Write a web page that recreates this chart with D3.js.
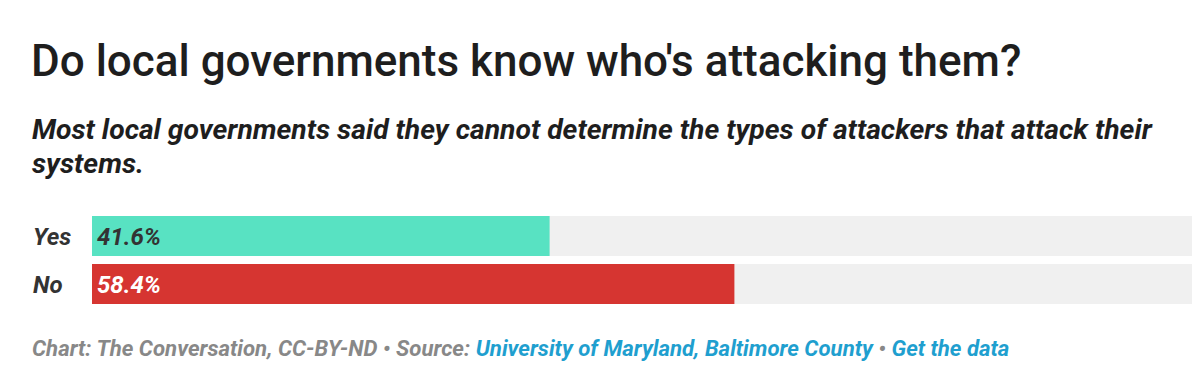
<!DOCTYPE html>
<html><head><meta charset="utf-8">
<script src="https://cdn.jsdelivr.net/npm/d3@7"></script>
<style>
html,body{margin:0;padding:0;background:#fff;}
svg{display:block;font-family:Roboto,"Noto Sans",sans-serif;}
</style></head>
<body>
<svg id="chart" width="1202" height="392"></svg>
<script>
const categories = ["Yes", "No"];
const values = [41.6, 58.4];
const valueLabels = ["41.6%", "58.4%"];
const barColors = ["#58e2c2", "#d63531"];
const labelColors = ["#333333", "#ffffff"];

const svg = d3.select("#chart");

svg.append("text").attr("x", 31).attr("y", 76)
  .attr("font-size", 44).attr("font-weight", 500).attr("fill", "#1e1e1e")
  .text("Do local governments know who's attacking them?");

const sub = svg.append("text").attr("font-size", 28.3).attr("font-weight", 700)
  .attr("font-style", "italic").attr("fill", "#1e1e1e");
sub.append("tspan").attr("x", 32).attr("y", 139)
  .text("Most local governments said they cannot determine the types of attackers that attack their");
sub.append("tspan").attr("x", 32).attr("y", 173).text("systems.");

const x = d3.scaleLinear().domain([0, 100]).range([92, 1192]);
const y = d3.scaleBand().domain(categories).range([216, 304]).paddingInner(0.1667).paddingOuter(0);

const rows = svg.append("g").selectAll("g.row").data(categories).join("g").attr("class", "row");

rows.append("rect").attr("x", x(0)).attr("y", d => y(d))
  .attr("width", x(100) - x(0)).attr("height", y.bandwidth()).attr("fill", "#f0f0f0");
rows.append("rect").attr("x", x(0)).attr("y", d => y(d))
  .attr("width", (d, i) => x(values[i]) - x(0)).attr("height", y.bandwidth())
  .attr("fill", (d, i) => barColors[i]);
rows.append("text").attr("x", 33).attr("y", d => y(d) + y.bandwidth() / 2 + 9)
  .attr("font-size", 24).attr("font-weight", 700).attr("font-style", "italic").attr("fill", "#333")
  .text(d => d);
rows.append("text").attr("x", x(0) + 5).attr("y", d => y(d) + y.bandwidth() / 2 + 9)
  .attr("font-size", 24).attr("font-weight", 700).attr("font-style", "italic")
  .attr("fill", (d, i) => labelColors[i])
  .text((d, i) => valueLabels[i]);

const foot = svg.append("text").attr("x", 32).attr("y", 356)
  .attr("font-size", 22.2).attr("font-weight", 700).attr("font-style", "italic").attr("fill", "#888");
foot.append("tspan").text("Chart: The Conversation, CC-BY-ND • Source: ");
foot.append("tspan").attr("fill", "#1f9fcf").text("University of Maryland, Baltimore County");
foot.append("tspan").text(" • ");
foot.append("tspan").attr("fill", "#1f9fcf").text("Get the data");
</script>
</body></html>
